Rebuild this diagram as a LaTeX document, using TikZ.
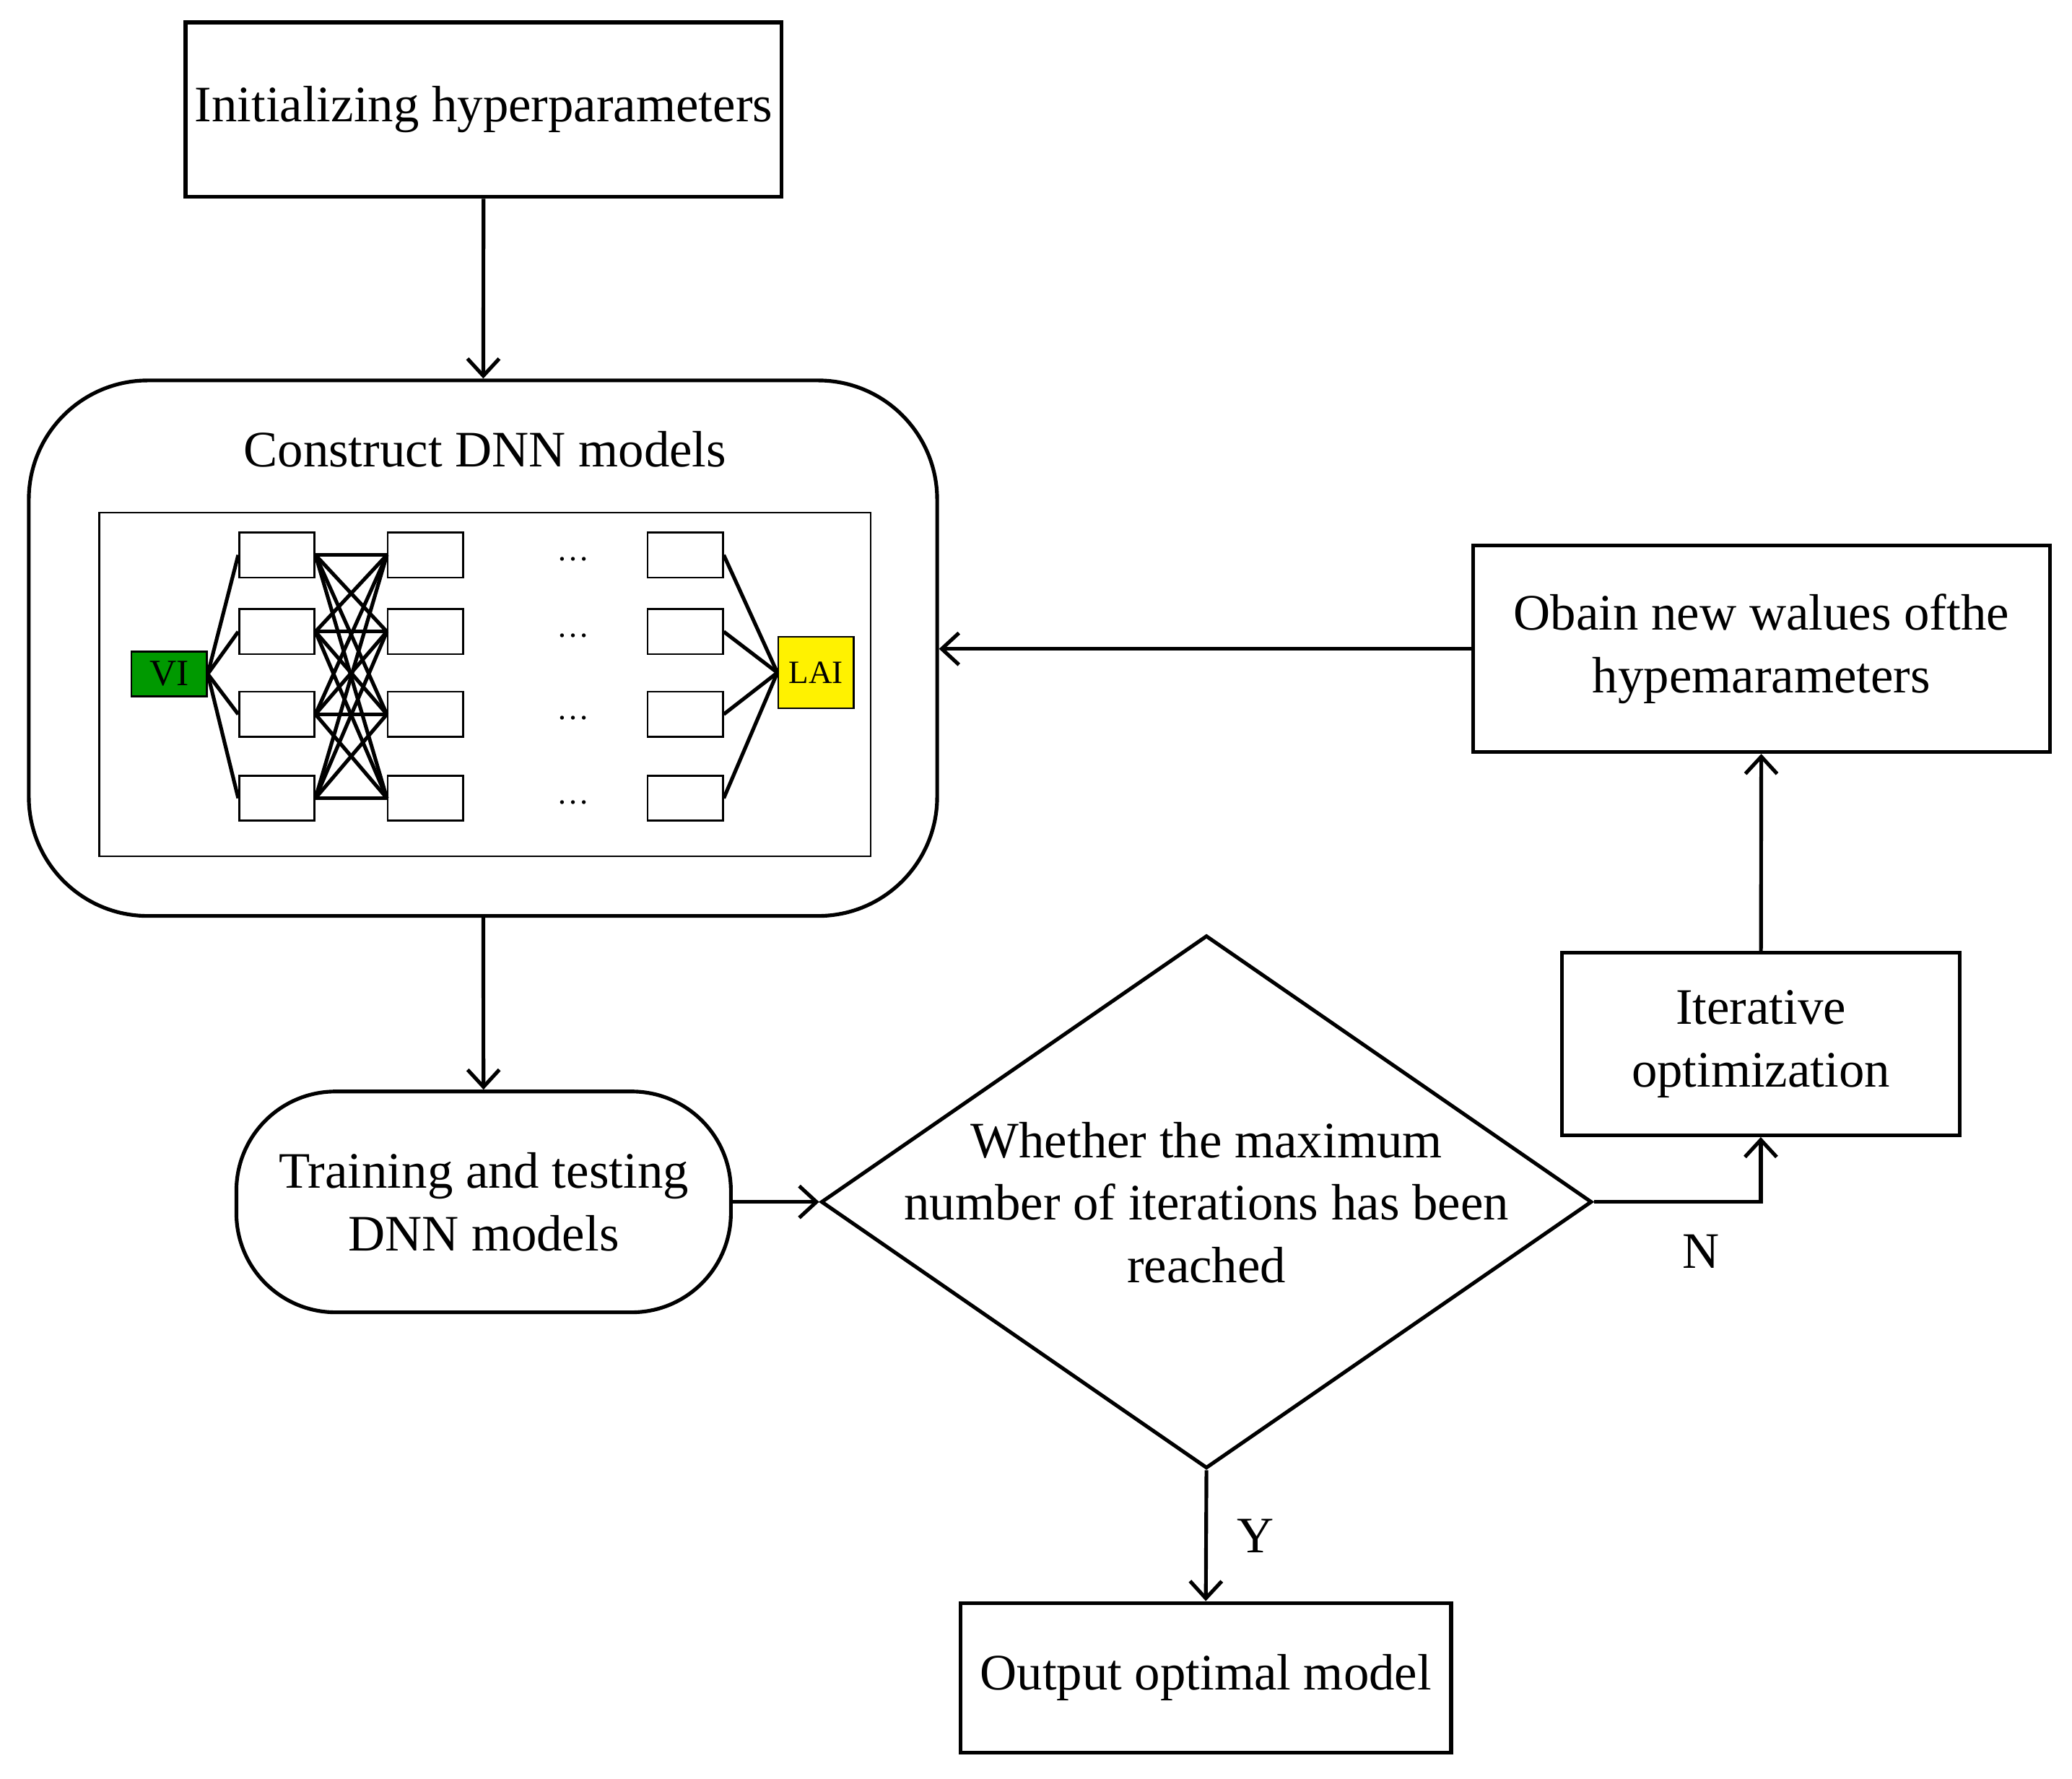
\documentclass[tikz,border=0pt]{standalone}
\usepackage{fontspec}
\setmainfont{Liberation Serif}
\usetikzlibrary{positioning, arrows.meta, shapes.geometric}

\tikzset{
  box/.style={draw, thick, minimum width=#1, align=center, inner sep=2pt},
  unit/.style={draw, minimum width=0.57cm, minimum height=0.34cm, inner sep=0pt},
  flow/.style={->, thick, >={Straight Barb[length=1.3mm, width=2.4mm]}},
  link/.style={thick}
}

\begin{document}
\begin{tikzpicture}[x=0.01cm, y=-0.01cm, font=\fontsize{11}{13.4}\selectfont]
  \useasboundingbox (0,0) rectangle (1568,1346);

  % -- main boxes --
  \node[box=4.5cm, minimum height=1.32cm] (init) at (366,83) {Initializing hyperparameters};
  \node[draw, thick, rounded corners=0.9cm, minimum width=6.87cm, minimum height=4.05cm] (dnn) at (365.5,490.5) {};
  \node at (367,340) {Construct DNN models};
  \draw (75,388) rectangle (659,648);
  \node[draw, thick, rounded corners=0.75cm, minimum width=3.74cm, minimum height=1.67cm, align=center] (train) at (366,909.5) {Training and testing\\DNN models};
  \node[draw, thick, diamond, aspect=1.45, minimum width=5.83cm, minimum height=4.03cm, inner sep=0pt] (check) at (913,909.5) {};
  \node[align=center] at (913,910) {Whether the maximum\\number of iterations has been\\reached};
  \node[box=3.71cm, minimum height=1.13cm] (out) at (912.5,1269.5) {Output optimal model};
  \node[box=3.01cm, minimum height=1.38cm] (iter) at (1332.5,790) {Iterative\\optimization};
  \node[box=4.36cm, minimum height=1.56cm] (new) at (1333,491) {Obain new walues ofthe\\hypemarameters};

  % -- network sketch --
  \node[unit, fill=green!60!black, font=\fontsize{8}{9}\selectfont] (vi) at (128,510) {VI};
  \node[unit, fill=yellow, minimum height=0.54cm, font=\fontsize{7}{8}\selectfont] (lai) at (617.5,509) {LAI};
  \foreach \i/\y in {1/420, 2/478, 3/540.5, 4/604} {
    \node[unit] (a\i) at (209.5,\y) {};
    \node[unit] (b\i) at (322,\y) {};
    \node[unit] (c\i) at (518.5,\y) {};
    \node[font=\fontsize{7}{8}\selectfont] at (434,\y+3) {\dots};
    \draw[link] (vi.east) -- (a\i.west);
    \draw[link] (c\i.east) -- (lai.west);
  }
  \foreach \i in {1,...,4}
    \foreach \j in {1,...,4}
      \draw[link] (a\i.east) -- (b\j.west);

  % -- connectors --
  \draw[flow] (init) -- (dnn);
  \draw[flow] (dnn) -- (train);
  \draw[flow] (train) -- (check);
  \draw[flow] (check.east) -| (iter.south);
  \node at (1287,947) {N};
  \draw[flow] (iter) -- (new);
  \draw[flow] (new.west) -- (dnn.east |- new.west);
  \draw[flow] (check.south) -- (out.north);
  \node at (950,1162) {Y};
\end{tikzpicture}
\end{document}
